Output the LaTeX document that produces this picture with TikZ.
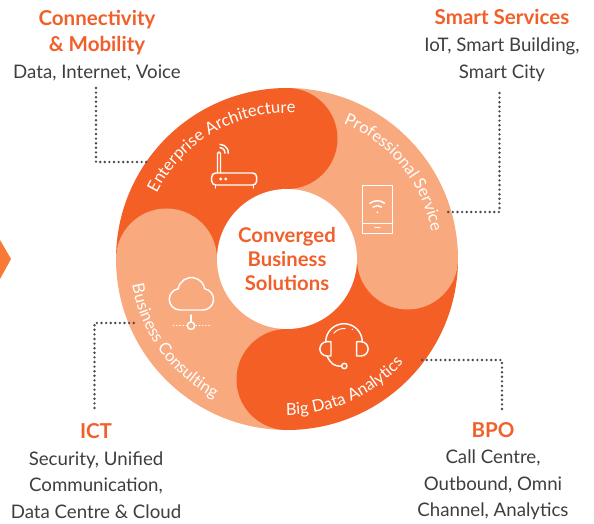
\documentclass[tikz,border=0pt]{standalone}
\usepackage{fontspec}
\setmainfont{Lato}
\usetikzlibrary{decorations.text}
\definecolor{segdark}{HTML}{F35F25}
\definecolor{seglight}{HTML}{F9A97E}
\definecolor{headcol}{HTML}{F1602A}
\definecolor{bodycol}{HTML}{3E3E3E}
\definecolor{dotcol}{HTML}{4A4A4A}
\definecolor{tipcol}{HTML}{FA7A35}
\newcommand{\ringfont}{\fontsize{12.4}{14}\selectfont\color{white}}
\newcommand{\headfont}{\color{headcol}\bfseries\fontsize{15.4}{19.9}\selectfont}
\tikzset{
	label text/.style={inner sep=0pt, align=center, text=bodycol, font=\fontsize{14}{19.9}\selectfont},
	dot wire/.style={draw=dotcol, line width=2pt, line cap=round, dash pattern=on 0pt off 3.45pt},
	icon/.style={draw=white, line width=1.1pt, line cap=round, line join=round},
	ring text/.style={decorate, decoration={text along path, text align=center, text={|\ringfont|#1}}}
}
\begin{document}
\begin{tikzpicture}[x=0.75pt, y=0.75pt]
	\useasboundingbox (0,0) rectangle (594,-524);
	% Ring, then caps, then text
	\fill[tipcol] (0,-240) -- (11,-259) -- (0,-279) -- cycle;
	\begin{scope}[shift={(287,-259)}]
		\fill[segdark] (0,0) -- (90:171) arc (90:180:171) -- cycle;
		\fill[seglight] (0,0) -- (0:171) arc (0:90:171) -- cycle;
		\fill[segdark] (0,0) -- (270:171) arc (270:360:171) -- cycle;
		\fill[seglight] (0,0) -- (180:171) arc (180:270:171) -- cycle;
		\fill[seglight] (180:120.5) circle (50.5);
		\fill[segdark] (90:120.5) circle (50.5);
		\fill[seglight] (0:120.5) circle (50.5);
		\fill[segdark] (270:120.5) circle (50.5);
		\path[ring text={Enterprise Architecture}] (170:146) arc (170:70:146);
		\path[ring text={Professional Service}] (89:147) arc (89:-11:147);
		\path[ring text={Business Consulting}] (166:157) arc (166:266:157);
		\path[ring text={Big Data Analytics}] (244:156) arc (244:344:156);
	\end{scope}
	\node[circle, fill=white, minimum size=105pt, inner sep=0pt, align=center, font=\fontsize{15.2}{18}\selectfont\bfseries, text=headcol] (core) at (287,-259) {Converged\\Business\\Solutions};
	% Labels
	\node[label text] (mobility) at (97,-45.5) {{\headfont Connectivity}\\{\headfont \& Mobility}\\Data, Internet, Voice};
	\node[label text] (smart) at (502,-45.5) {{\headfont Smart Services}\\IoT, Smart Building,\\Smart City};
	\node[label text] (ict) at (96,-471) {{\headfont ICT}\\Security, Unified\\Communication,\\Data Centre \& Cloud};
	\node[label text] (bpo) at (493,-471) {{\headfont BPO}\\Call Centre,\\Outbound, Omni\\Channel, Analytics};
	% Wires
	\coordinate (m1) at (96,-88);
	\coordinate (m2) at (150,-162);
	\coordinate (s1) at (499.5,-93);
	\coordinate (s2) at (447,-212);
	\coordinate (i1) at (94.5,-408);
	\coordinate (i2) at (135,-323);
	\coordinate (b1) at (502,-409);
	\coordinate (b2) at (418,-360);
	\draw[dot wire] (m1) |- (m2);
	\draw[dot wire] (s1) |- (s2);
	\draw[dot wire] (i1) |- (i2);
	\draw[dot wire] (b1) |- (b2);
	% Router
	\draw[icon, rounded corners=3pt] (211.7,-173) rectangle (256.7,-185);
	\draw[icon] (215.7,-185) -- (215.7,-188);
	\draw[icon] (253.3,-185) -- (253.3,-188);
	\draw[icon] (217.5,-173) -- (217.5,-153.5) arc (180:0:1.5) -- (220.5,-173);
	\draw[icon] (220,-147.7) arc (90:-5:5);
	\draw[icon] (220,-144.4) arc (90:-5:8.3);
	\fill[white] (220.7,-179) circle (1.6);
	\fill[white] (225.7,-179) circle (1.6);
	% Phone
	\draw[icon] (362.7,-185.7) rectangle (392.7,-233.3);
	\draw[icon] (362.7,-223.3) -- (392.7,-223.3);
	\draw[icon] (375,-227.3) -- (380,-227.3);
	\draw[icon] (370,-203.3) arc (129:51:11.6);
	\draw[icon] (373.1,-207.1) arc (129:51:6.7);
	\fill[white] (377.3,-212.3) circle (1);
	% Cloud
	\draw[icon] (180,-310) arc (270:100:10.7) arc (170:10:13.5) arc (80:-90:10.7) -- cycle;
	\draw[icon] (191,-315) -- (191,-322);
	\draw[icon] (191,-325.7) circle (3.7);
	\draw[icon, line width=0.9pt, dash pattern=on 0.4pt off 2pt] (173.3,-325.7) -- (186.7,-325.7);
	\draw[icon, line width=0.9pt, dash pattern=on 0.4pt off 2pt] (196,-325.7) -- (210,-325.7);
	% Headset
	\draw[icon] (325.7,-342) arc (180:0:18.3);
	\draw[icon] (331,-341.7) -- (331,-356) -- (327,-356) arc (270:90:7.15) -- cycle;
	\draw[icon] (356.7,-341.7) -- (356.7,-356) -- (361,-356) arc (-90:90:7.15) -- cycle;
	\draw[icon] (327,-356) .. controls (331,-364) and (334,-366.5) .. (341.6,-366);
	\draw[icon] (344.3,-366) circle (2.7);
	\draw[icon, line width=0.7pt] (333.7,-333.3) arc (140:85:13.5);
	\fill[white] (352.3,-329.3) circle (0.7);
\end{tikzpicture}
\end{document}
